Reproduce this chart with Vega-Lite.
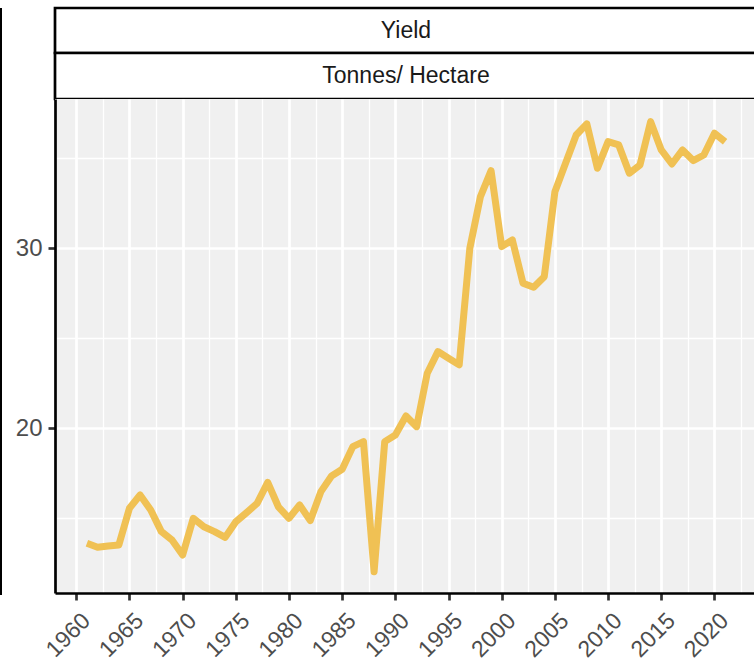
{
  "$schema": "https://vega.github.io/schema/vega-lite/v6.json",
  "padding": {"left": 0, "top": 0, "right": 0, "bottom": 8},
  "background": "white",
  "config": {
    "font": "Liberation Sans",
    "view": {"stroke": null},
    "concat": {"spacing": 0},
    "title": {"font": "Liberation Sans"}
  },
  "datasets": {
    "yield": [
      {"year": 1961, "value": 13.61}, {"year": 1962, "value": 13.39}, {"year": 1963, "value": 13.46},
      {"year": 1964, "value": 13.52}, {"year": 1965, "value": 15.56}, {"year": 1966, "value": 16.29},
      {"year": 1967, "value": 15.46}, {"year": 1968, "value": 14.26}, {"year": 1969, "value": 13.79},
      {"year": 1970, "value": 12.96}, {"year": 1971, "value": 15.0}, {"year": 1972, "value": 14.53},
      {"year": 1973, "value": 14.26}, {"year": 1974, "value": 13.94}, {"year": 1975, "value": 14.81},
      {"year": 1976, "value": 15.31}, {"year": 1977, "value": 15.83}, {"year": 1978, "value": 16.99},
      {"year": 1979, "value": 15.64}, {"year": 1980, "value": 15.0}, {"year": 1981, "value": 15.74},
      {"year": 1982, "value": 14.87}, {"year": 1983, "value": 16.48}, {"year": 1984, "value": 17.35},
      {"year": 1985, "value": 17.72}, {"year": 1986, "value": 18.98}, {"year": 1987, "value": 19.26},
      {"year": 1988, "value": 12.03}, {"year": 1989, "value": 19.26}, {"year": 1990, "value": 19.63},
      {"year": 1991, "value": 20.68}, {"year": 1992, "value": 20.09}, {"year": 1993, "value": 23.06},
      {"year": 1994, "value": 24.26}, {"year": 1995, "value": 23.89}, {"year": 1996, "value": 23.52},
      {"year": 1997, "value": 30.0}, {"year": 1998, "value": 32.87}, {"year": 1999, "value": 34.31},
      {"year": 2000, "value": 30.09}, {"year": 2001, "value": 30.46}, {"year": 2002, "value": 28.06},
      {"year": 2003, "value": 27.83}, {"year": 2004, "value": 28.42}, {"year": 2005, "value": 33.14},
      {"year": 2006, "value": 34.72}, {"year": 2007, "value": 36.29}, {"year": 2008, "value": 36.91},
      {"year": 2009, "value": 34.44}, {"year": 2010, "value": 35.92}, {"year": 2011, "value": 35.74},
      {"year": 2012, "value": 34.17}, {"year": 2013, "value": 34.63}, {"year": 2014, "value": 37.03},
      {"year": 2015, "value": 35.46}, {"year": 2016, "value": 34.68}, {"year": 2017, "value": 35.46},
      {"year": 2018, "value": 34.87}, {"year": 2019, "value": 35.18}, {"year": 2020, "value": 36.39},
      {"year": 2021, "value": 35.92}
    ],
    "strip1": [{"label": "Yield"}],
    "strip2": [{"label": "Tonnes/ Hectare"}],
    "stub": [{"k": 1}]
  },
  "spacing": 13,
  "hconcat": [
    {
      "width": 2,
      "height": 587,
      "data": {"name": "stub"},
      "view": {"fill": "black", "stroke": null},
      "mark": {"type": "point", "size": 0, "opacity": 0, "strokeWidth": 0},
      "encoding": {}
    },
    {
      "spacing": 0,
      "bounds": "flush",
      "vconcat": [
        {
          "width": 702,
          "height": 45,
          "title": {"text": " ", "fontSize": 4, "offset": 2.6},
          "data": {"name": "strip1"},
          "view": {"fill": "white", "stroke": "black", "strokeWidth": 2.7},
          "mark": {"type": "text", "fontSize": 23, "color": "#1A1A1A", "font": "Liberation Sans"},
          "encoding": {"text": {"field": "label"}}
        },
        {
          "width": 702,
          "height": 46,
          "data": {"name": "strip2"},
          "view": {"fill": "white", "stroke": "black", "strokeWidth": 2.7},
          "mark": {"type": "text", "fontSize": 23, "color": "#1A1A1A", "font": "Liberation Sans"},
          "encoding": {"text": {"field": "label"}}
        },
        {
          "width": 702,
          "height": 494,
          "data": {"name": "yield"},
          "view": {"fill": "#F0F0F0", "stroke": null},
          "layer": [
            {
              "mark": {"type": "line", "opacity": 0},
              "encoding": {
                "x": {
                  "field": "year", "type": "quantitative",
                  "scale": {"domain": [1958, 2024], "nice": false, "zero": false},
                  "axis": {
                    "orient": "bottom", "title": null,
                    "values": [1962.5, 1967.5, 1972.5, 1977.5, 1982.5, 1987.5, 1992.5, 1997.5, 2002.5, 2007.5, 2012.5, 2017.5, 2022.5],
                    "grid": true, "gridColor": "white", "gridWidth": 1.3,
                    "labels": false, "ticks": false, "domain": false,
                    "minExtent": 0, "maxExtent": 0
                  }
                },
                "y": {
                  "field": "value", "type": "quantitative",
                  "scale": {"domain": [10.85, 38.29], "nice": false, "zero": false},
                  "axis": {
                    "orient": "left", "title": null,
                    "values": [15, 25, 35],
                    "grid": true, "gridColor": "white", "gridWidth": 1.3,
                    "labels": false, "ticks": false, "domain": false,
                    "minExtent": 0, "maxExtent": 0
                  }
                }
              }
            },
            {
              "mark": {"type": "line", "color": "#F0C154", "strokeWidth": 7, "strokeJoin": "round", "strokeCap": "butt"},
              "encoding": {
                "x": {
                  "field": "year", "type": "quantitative",
                  "axis": {
                    "orient": "bottom", "title": null,
                    "values": [1960, 1965, 1970, 1975, 1980, 1985, 1990, 1995, 2000, 2005, 2010, 2015, 2020],
                    "format": "d",
                    "grid": true, "gridColor": "white", "gridWidth": 2.7,
                    "domain": true, "domainColor": "black", "domainWidth": 2.7,
                    "ticks": true, "tickColor": "#333333", "tickWidth": 2.7, "tickSize": 7,
                    "labelAngle": -45, "labelFontSize": 23, "labelColor": "#4D4D4D", "labelPadding": 9,
                    "labelOffset": 2,
                    "labelFont": "Liberation Sans"
                  }
                },
                "y": {
                  "field": "value", "type": "quantitative",
                  "axis": {
                    "orient": "left", "title": null,
                    "values": [20, 30],
                    "grid": true, "gridColor": "white", "gridWidth": 2.7,
                    "domain": true, "domainColor": "black", "domainWidth": 2.7,
                    "ticks": true, "tickColor": "#333333", "tickWidth": 2.7, "tickSize": 7,
                    "labelFontSize": 24, "labelColor": "#4D4D4D", "labelPadding": 6,
                    "labelFont": "Liberation Sans"
                  }
                }
              }
            }
          ],
          "resolve": {"axis": {"x": "independent", "y": "independent"}}
        }
      ]
    }
  ]
}
